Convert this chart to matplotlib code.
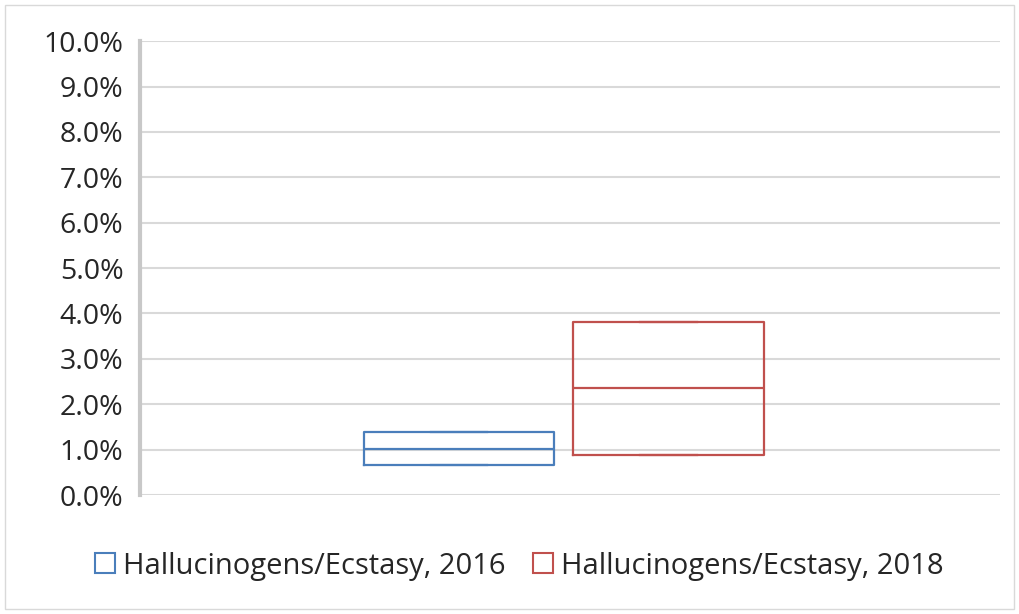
import matplotlib
matplotlib.use("Agg")
import matplotlib.pyplot as plt
from matplotlib.patches import Rectangle
from matplotlib.lines import Line2D

plt.rcParams['font.family'] = ['Open Sans', 'DejaVu Sans']

# box statistics (percent)
series = ['Hallucinogens/Ecstasy, 2016', 'Hallucinogens/Ecstasy, 2018']
colors = ['#4a7ebb', '#c0504d']
q1 = [0.66, 0.88]
median = [1.01, 2.36]
q3 = [1.39, 3.81]
whislo = [0.66, 0.88]
whishi = [1.39, 3.81]
positions = [0.371, 0.615]

fig = plt.figure(figsize=(10.19, 6.14), dpi=100)
ax = fig.add_axes([0.1374, 0.1938, 0.981 - 0.1374, 0.933 - 0.1938])

for i in range(len(series)):
    stats = [{'q1': q1[i], 'med': median[i], 'q3': q3[i],
              'whislo': whislo[i], 'whishi': whishi[i], 'fliers': []}]
    ax.bxp(stats, positions=[positions[i]], widths=0.222, showfliers=False,
           boxprops=dict(color=colors[i], linewidth=1.6),
           medianprops=dict(color=colors[i], linewidth=1.6),
           whiskerprops=dict(color=colors[i], linewidth=1.6),
           capprops=dict(color=colors[i], linewidth=1.6),
           capwidths=0.066, manage_ticks=False)

ax.set_xlim(0, 1)
ax.set_ylim(0, 10)
ax.set_yticks(range(0, 11))
ax.set_yticklabels(['%.1f%%' % v for v in range(0, 11)])
ax.set_xticks([])
ax.tick_params(axis='y', length=0, pad=12, labelsize=20.5, labelcolor='#262626')
ax.yaxis.grid(True, color='#d9d9d9', linewidth=1.5)
ax.set_axisbelow(True)
for s in ['top', 'right', 'bottom']:
    ax.spines[s].set_visible(False)
ax.spines['left'].set_color('#c8c8c8')
ax.spines['left'].set_linewidth(3)

handles = [Line2D([], [], marker='s', linestyle='none', markersize=14,
                  markerfacecolor='white', markeredgecolor=c, markeredgewidth=1.5)
           for c in colors]
fig.legend(handles, series, loc='center', bbox_to_anchor=(0.506, 0.078), ncol=2,
           frameon=False, fontsize=21, handletextpad=0.0, columnspacing=0.7,
           handlelength=1.2, labelcolor='#262626')

fig.add_artist(Rectangle((0.005, 0.008), 0.99, 0.984, transform=fig.transFigure,
                         fill=False, edgecolor='#d9d9d9', linewidth=1))

fig.savefig('out.png', dpi=100)
